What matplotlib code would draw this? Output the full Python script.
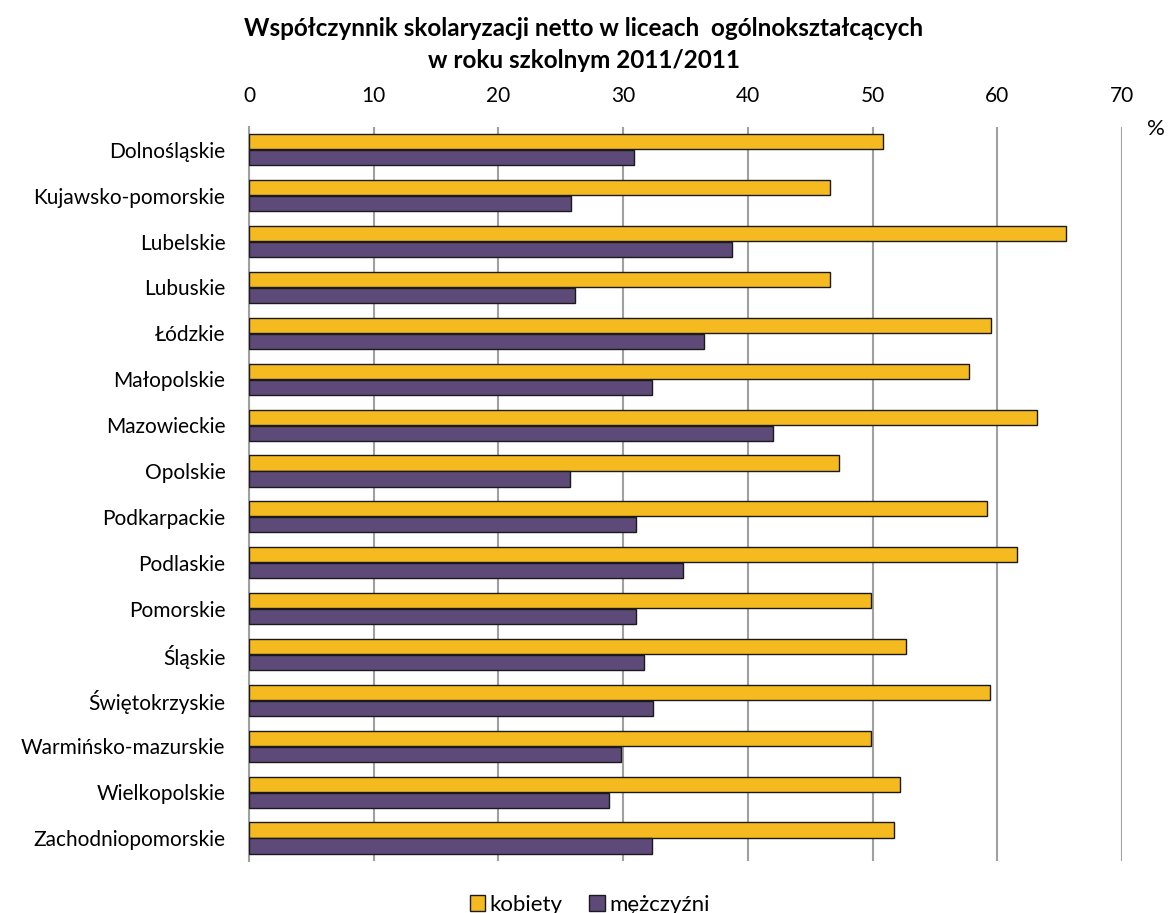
import matplotlib
matplotlib.use("Agg")
import matplotlib.pyplot as plt
import numpy as np

plt.rcParams["font.family"] = ["Lato", "DejaVu Sans"]

regions = [
    "Dolnośląskie", "Kujawsko-pomorskie", "Lubelskie", "Lubuskie", "Łódzkie",
    "Małopolskie", "Mazowieckie", "Opolskie", "Podkarpackie", "Podlaskie",
    "Pomorskie", "Śląskie", "Świętokrzyskie", "Warmińsko-mazurskie",
    "Wielkopolskie", "Zachodniopomorskie",
]
kobiety = [50.8, 46.6, 65.5, 46.6, 59.5, 57.7, 63.2, 47.3, 59.2, 61.6,
           49.9, 52.7, 59.4, 49.9, 52.2, 51.7]
mezczyzni = [30.9, 25.8, 38.7, 26.1, 36.5, 32.3, 42.0, 25.7, 31.0, 34.8,
             31.0, 31.7, 32.4, 29.8, 28.9, 32.3]
xticks = [0, 10, 20, 30, 40, 50, 60, 70]

fig = plt.figure(figsize=(11.68, 9.13), dpi=100)
ax = fig.add_axes([0.2132, 0.057, 0.7474, 0.804])

y = np.arange(len(regions))
h = 0.33
ax.barh(y - h / 2 - 0.01, kobiety, height=h, color="#F5BA1F",
        edgecolor="#1a1a1a", linewidth=1, label="kobiety", zorder=3)
ax.barh(y + h / 2 + 0.01, mezczyzni, height=h, color="#5E4A78",
        edgecolor="#1a1a1a", linewidth=1, label="mężczyźni", zorder=3)

ax.set_xlim(0, 70)
ax.set_ylim(len(regions) - 0.5, -0.5)
ax.set_yticks(y)
ax.set_yticklabels(regions, fontsize=15)
ax.set_xticks(xticks)
ax.set_xticklabels([str(t) for t in xticks], fontsize=15)
ax.xaxis.tick_top()
ax.tick_params(axis="x", length=0, pad=15)
ax.tick_params(axis="y", length=0, pad=17)
for s in ["top", "right", "bottom"]:
    ax.spines[s].set_visible(False)
ax.spines["left"].set_color("#a0a0a0")
ax.spines["left"].set_linewidth(1.5)
ax.xaxis.grid(True, color="#a0a0a0", linewidth=1.5, zorder=0)
ax.set_axisbelow(True)

fig.text(0.997, 0.859, "%", fontsize=16, ha="right", va="center")
fig.text(0.5, 0.969, "Współczynnik skolaryzacji netto w liceach  ogólnokształcących",
         fontsize=17.5, fontweight="bold", ha="center", va="center")
fig.text(0.5, 0.934, "w roku szkolnym 2011/2011",
         fontsize=17.5, fontweight="bold", ha="center", va="center")

fig.legend(loc="lower center", bbox_to_anchor=(0.505, -0.024), ncol=2,
           frameon=False, fontsize=16, handlelength=0.7, handleheight=0.7,
           handletextpad=0.2, columnspacing=1.2)

fig.savefig("out.png", dpi=100)
